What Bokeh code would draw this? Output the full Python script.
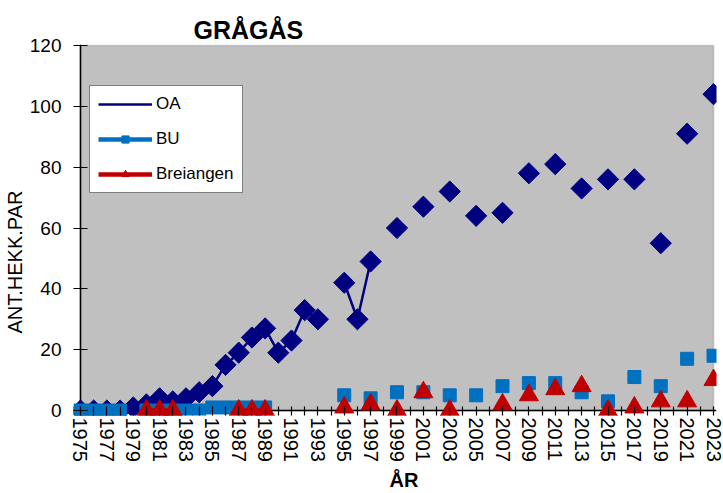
import math
from bokeh.plotting import figure
from bokeh.models import (Range1d, FixedTicker, BoxAnnotation, Span, Title, Legend,
                          LegendItem, ColumnDataSource)
from bokeh.embed import file_html
from bokeh.resources import INLINE

nan = float("nan")

years = [1975, 1976, 1977, 1978, 1979, 1980, 1981, 1982, 1983, 1984,
         1985, 1986, 1987, 1988, 1989, 1990, 1991, 1992, 1993, 1994,
         1995, 1996, 1997, 1998, 1999, 2000, 2001, 2002, 2003, 2004,
         2005, 2006, 2007, 2008, 2009, 2010, 2011, 2012, 2013, 2014,
         2015, 2016, 2017, 2018, 2019, 2020, 2021, 2022, 2023]

oa = [0, 0, 0, 0, 1, 2, 4, 3, 4, 6,
      8, 15, 19, 24, 27, 19, 23, 33, 30, nan,
      42, 30, 49, nan, 60, nan, 67, nan, 72, nan,
      64, nan, 65, nan, 78, nan, 81, nan, 73, nan,
      76, nan, 76, nan, 55, nan, 91, nan, 104]

bu = [0, 0, 0, 0, nan, 0, 0, 0, 0, 0,
      1, 1, 1, 1, 1, nan, nan, nan, nan, nan,
      5, nan, 4, nan, 6, nan, 6, nan, 5, nan,
      5, nan, 8, nan, 9, nan, 9, nan, 6, nan,
      3, nan, 11, nan, 8, nan, 17, nan, 18]

breiangen = [nan, nan, nan, nan, nan, 0, 0, 0, nan, nan,
             nan, nan, 0, 0, 0, nan, nan, nan, nan, nan,
             1, nan, 2, nan, 0, nan, 6, nan, 0, nan,
             nan, nan, 2, nan, 5, nan, 7, nan, 8, nan,
             0, nan, 1, nan, 3, nan, 3, nan, 10]

series_names = ["OA", "BU", "Breiangen"]
y_ticks = [0, 20, 40, 60, 80, 100, 120]
x_label_years = [1975, 1977, 1979, 1981, 1983, 1985, 1987, 1989, 1991, 1993,
                 1995, 1997, 1999, 2001, 2003, 2005, 2007, 2009, 2011, 2013,
                 2015, 2017, 2019, 2021, 2023]
x_minor_years = [1976, 1978, 1980, 1982, 1984, 1986, 1988, 1990, 1992, 1994,
                 1996, 1998, 2000, 2002, 2004, 2006, 2008, 2010, 2012, 2014,
                 2016, 2018, 2020, 2022]

title_text = "GRÅGÅS"
x_title = "ÅR"
y_title = "ANT.HEKK.PAR"

FONT = "Liberation Sans"
C_OA = "#000080"
C_BU = "#0070C0"
C_BR = "#C00000"

p = figure(width=723, height=493, output_backend="svg", toolbar_location=None,
           x_range=Range1d(1974.47, 2023.227), y_range=Range1d(-1.644, 120.33),
           min_border_left=72, min_border_right=7, min_border_top=44,
           min_border_bottom=78)
p.background_fill_color = "white"
p.border_fill_color = "white"
p.outline_line_color = None
p.xgrid.visible = False
p.ygrid.visible = False

# plot area background and axis lines
p.add_layout(BoxAnnotation(left=years[0], right=years[-1], bottom=y_ticks[0], top=y_ticks[-1],
                           level="underlay", fill_color="#C0C0C0", fill_alpha=1.0,
                           line_color="#808080", line_width=2))
p.add_layout(Span(location=y_ticks[0], dimension="width", line_color="black",
                  line_width=1.5, level="underlay"))
p.add_layout(Span(location=years[0], dimension="height", line_color="black",
                  line_width=1.5, level="underlay"))

src = ColumnDataSource(dict(year=years, oa=oa, bu=bu, br=breiangen))

l_oa = p.line("year", "oa", source=src, line_color=C_OA, line_width=2.5)
s_oa = p.scatter("year", "oa", source=src, marker="square", angle=math.pi / 4,
                 size=15, fill_color=C_OA, line_color=C_OA)
l_bu = p.line("year", "bu", source=src, line_color=C_BU, line_width=4.5)
s_bu = p.scatter("year", "bu", source=src, marker="square", size=13,
                 fill_color=C_BU, line_color=C_BU)
l_br = p.line("year", "br", source=src, line_color=C_BR, line_width=4.5)
s_br = p.scatter("year", "br", source=src, marker="triangle", size=19,
                 fill_color=C_BR, line_color=C_BR)

# legend-only diamond (no data) so the legend shows a diamond symbol
leg_src = ColumnDataSource(dict(year=[], oa=[]))
s_oa_leg = p.scatter("year", "oa", source=leg_src, marker="diamond", size=10,
                     fill_color=C_OA, line_color=C_OA)

# axes (lines drawn by the spans; ticks point inward to cross the axis)
xa = p.xaxis[0]
xa.ticker = FixedTicker(ticks=x_label_years, minor_ticks=x_minor_years)
xa.major_label_orientation = "vertical"
xa.major_label_text_font = FONT
xa.major_label_text_font_size = "20px"
xa.major_label_text_color = "black"
xa.major_label_standoff = 2
xa.major_tick_in = 9
xa.major_tick_out = 0
xa.minor_tick_in = 9
xa.minor_tick_out = 0
xa.axis_line_color = None
xa.major_tick_line_color = "black"
xa.minor_tick_line_color = "black"
xa.major_tick_line_width = 1.2
xa.minor_tick_line_width = 1.2

ya = p.yaxis[0]
ya.ticker = FixedTicker(ticks=y_ticks, minor_ticks=[])
ya.major_label_text_font = FONT
ya.major_label_text_font_size = "19px"
ya.major_label_text_color = "black"
ya.major_label_standoff = 12
ya.major_tick_in = 14
ya.major_tick_out = 0
ya.minor_tick_in = 0
ya.minor_tick_out = 0
ya.axis_line_color = None
ya.major_tick_line_color = "black"
ya.major_tick_line_width = 1.2

legend = Legend(items=[LegendItem(label=series_names[0], renderers=[l_oa, s_oa_leg]),
                       LegendItem(label=series_names[1], renderers=[l_bu, s_bu]),
                       LegendItem(label=series_names[2], renderers=[l_br, s_br])],
                location=(16, 222), padding=8, spacing=15, glyph_height=18,
                glyph_width=54, label_height=18, label_standoff=4, margin=0,
                label_text_font=FONT, label_text_font_size="17px",
                label_text_color="black",
                border_line_color="black", border_line_width=1,
                background_fill_color="white", background_fill_alpha=1.0)
p.add_layout(legend)

p.add_layout(Title(text=title_text, align="left", offset=120, standoff=2,
                   text_font=FONT, text_font_size="25px", text_font_style="bold",
                   text_color="black"), "above")
p.add_layout(Title(text=y_title, align="left", offset=82, standoff=2,
                   text_font=FONT, text_font_size="20px", text_font_style="normal",
                   text_color="black"), "left")
p.add_layout(Title(text=x_title, align="left", offset=316, standoff=4,
                   text_font=FONT, text_font_size="20px", text_font_style="bold",
                   text_color="black"), "below")

open("out.html", "w").write(file_html(p, INLINE))
